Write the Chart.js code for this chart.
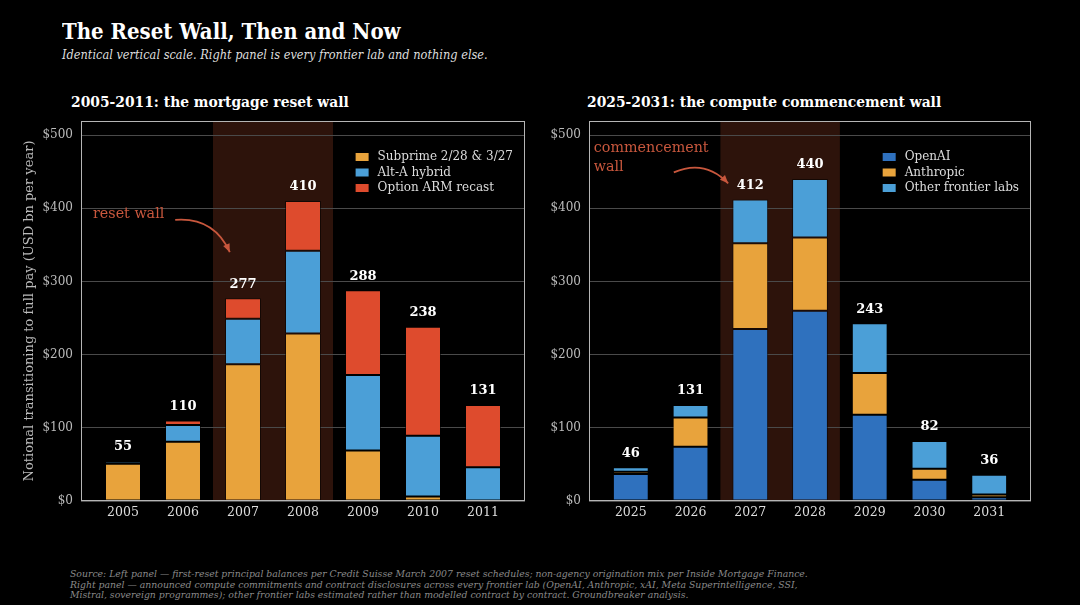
<!DOCTYPE html>
<html>
<head>
<meta charset="utf-8">
<script src="https://cdn.jsdelivr.net/npm/chart.js@4.4.1/dist/chart.umd.min.js"></script>
<style>
  html, body { margin: 0; padding: 0; background: #000; width: 1080px; height: 605px; overflow: hidden; }
  body { position: relative; font-family: "DejaVu Serif", serif; color: #fff; }
  .txt { position: absolute; white-space: nowrap; transform-origin: 0 0; }
  #title { left: 62px; top: 17px; font-size: 23px; font-weight: bold; transform: scaleX(0.86); }
  #subtitle { left: 62px; top: 47px; font-size: 12.5px; font-style: italic; color: #ddd; transform: scaleX(0.91); }
  .panel-title { top: 93px; font-size: 15px; font-weight: bold; transform: scaleX(0.923); }
  #footer { left: 70px; top: 569px; font-size: 9.3px; line-height: 10.5px; font-style: italic; color: #8a8a8a; }
  .box { position: absolute; top: 110px; width: 540px; height: 420px; }
</style>
</head>
<body>
<div id="title" class="txt">The Reset Wall, Then and Now</div>
<div id="subtitle" class="txt">Identical vertical scale. Right panel is every frontier lab and nothing else.</div>
<div class="txt panel-title" style="left:71px">2005-2011: the mortgage reset wall</div>
<div class="txt panel-title" style="left:587px">2025-2031: the compute commencement wall</div>
<div class="box" style="left:0"><canvas id="left" width="540" height="420"></canvas></div>
<div class="box" style="left:540px"><canvas id="right" width="540" height="420"></canvas></div>
<div id="footer" class="txt">Source: Left panel — first-reset principal balances per Credit Suisse March 2007 reset schedules; non-agency origination mix per Inside Mortgage Finance.<br>Right panel — announced compute commitments and contract disclosures across every frontier lab (OpenAI, Anthropic, xAI, Meta Superintelligence, SSI,<br>Mistral, sovereign programmes); other frontier labs estimated rather than modelled contract by contract. Groundbreaker analysis.</div>

<script>
// values, USD bn per year
const leftYears = ["2005", "2006", "2007", "2008", "2009", "2010", "2011"];
const subprime = [51, 81, 187, 229, 69, 6, 0];
const altA = [3, 23, 62, 113, 103, 83, 46];
const optionArm = [1, 6, 28, 68, 116, 149, 85];

const rightYears = ["2025", "2026", "2027", "2028", "2029", "2030", "2031"];
const openAI = [37, 74, 235, 260, 118, 29, 5];
const anthropic = [3, 40, 117, 100, 57, 15, 4];
const otherLabs = [6, 17, 60, 80, 68, 38, 27];

const yTicks = [0, 100, 200, 300, 400, 500];
const yMax = 519.2;
const wallSpan = [1.5, 3.5]; // shaded years, in category units

const orange = "#e8a33c";
const lightBlue = "#4b9fd7";
const red = "#de4b2d";
const darkBlue = "#2f71be";
const accent = "#c8573d";

Chart.defaults.font.family = '"DejaVu Serif", serif';
Chart.defaults.color = "#ddd";

const serie = (label, values, color) => ({
  label,
  data: values.map((v, i) => ({ x: i, y: v })),
  backgroundColor: color,
  borderColor: "rgba(0,0,0,0.55)",
  borderWidth: 1,
  borderSkipped: false,
  barPercentage: 0.6,
  categoryPercentage: 1,
});

const wallDecor = {
  id: "wallDecor",
  beforeDraw(chart, args, opts) {
    const { ctx, chartArea: a, scales: { x } } = chart;
    const x0 = x.getPixelForValue(opts.band[0]);
    const x1 = x.getPixelForValue(opts.band[1]);
    ctx.save();
    ctx.fillStyle = "#2d130b";
    ctx.fillRect(x0, a.top, x1 - x0, a.bottom - a.top);
    ctx.restore();
  },
  afterDatasetsDraw(chart, args, opts) {
    const { ctx, chartArea: a, scales: { x, y } } = chart;
    ctx.save();

    // frame
    ctx.strokeStyle = "#b5b5b5";
    ctx.lineWidth = 1;
    ctx.strokeRect(a.left + 0.5, a.top + 0.5, a.right - a.left - 1, a.bottom - a.top - 1);

    // totals
    const sets = chart.data.datasets;
    ctx.fillStyle = "#fff";
    ctx.font = 'bold 13px "DejaVu Serif", serif';
    ctx.textAlign = "center";
    ctx.textBaseline = "middle";
    sets[0].data.forEach((p, i) => {
      const total = sets.reduce((s, d) => s + d.data[i].y, 0);
      ctx.fillText(String(total), x.getPixelForValue(i), y.getPixelForValue(total) - 14);
    });

    // legend, upper right inside the frame
    ctx.font = '12px "DejaVu Serif", serif';
    ctx.textAlign = "left";
    const widest = Math.max(...sets.map(d => ctx.measureText(d.label).width));
    const lx = a.right - 12 - widest - 22;
    sets.forEach((d, k) => {
      const ly = a.top + 36 + k * 15.5;
      ctx.fillStyle = d.backgroundColor;
      ctx.fillRect(lx, ly - 4, 13, 8);
      ctx.fillStyle = "#ddd";
      ctx.fillText(d.label, lx + 22, ly);
    });

    // annotation with curved arrow
    const n = opts.note;
    ctx.fillStyle = accent;
    ctx.font = '14.3px "DejaVu Serif", serif';
    const tx = x.getPixelForValue(n.x);
    const ty = y.getPixelForValue(n.y);
    n.text.forEach((line, k) => ctx.fillText(line, tx, ty + k * 19));
    const sx = x.getPixelForValue(n.from[0]), sy = y.getPixelForValue(n.from[1]);
    const ex = x.getPixelForValue(n.to[0]), ey = y.getPixelForValue(n.to[1]);
    const dx = ex - sx, dy = ey - sy;
    const cx = (sx + ex) / 2 + 0.35 * dy, cy = (sy + ey) / 2 - 0.35 * dx;
    ctx.strokeStyle = accent;
    ctx.lineWidth = 1.8;
    ctx.beginPath();
    ctx.moveTo(sx, sy);
    ctx.quadraticCurveTo(cx, cy, ex, ey);
    ctx.stroke();
    const ang = Math.atan2(ey - cy, ex - cx);
    ctx.beginPath();
    ctx.moveTo(ex, ey);
    ctx.lineTo(ex - 9 * Math.cos(ang - 0.4), ey - 9 * Math.sin(ang - 0.4));
    ctx.lineTo(ex - 9 * Math.cos(ang + 0.4), ey - 9 * Math.sin(ang + 0.4));
    ctx.closePath();
    ctx.fill();

    ctx.restore();
  },
};

const initWall = (el, years, datasets, note, yWidth, padRight, withTitle) => {
  const config = {
    type: "bar",
    data: { datasets },
    plugins: [wallDecor],
    options: {
      responsive: false,
      animation: false,
      layout: { padding: { left: 0, right: padRight, top: 11, bottom: 0 } },
      plugins: {
        legend: { display: false },
        tooltip: { enabled: false },
        wallDecor: { band: wallSpan, note },
      },
      scales: {
        x: {
          type: "linear",
          offset: false,
          stacked: true,
          min: -0.7,
          max: 6.7,
          grid: { display: false, drawTicks: false },
          border: { display: false },
          afterBuildTicks: s => { s.ticks = years.map((_, i) => ({ value: i })); },
          afterFit: s => { s.height = 29; s.paddingLeft = 0; s.paddingRight = 0; },
          ticks: {
            autoSkip: false,
            maxRotation: 0,
            padding: 4,
            color: "#ddd",
            font: { size: 12.5 },
            callback: v => years[v],
          },
        },
        y: {
          stacked: true,
          min: 0,
          max: yMax,
          grid: { color: "#4a4a4a", lineWidth: 1, drawTicks: false },
          border: { display: false },
          afterBuildTicks: s => { s.ticks = yTicks.map(v => ({ value: v })); },
          afterFit: s => { s.width = yWidth; s.paddingTop = 0; s.paddingBottom = 0; },
          ticks: { padding: 8, color: "#bbb", font: { size: 12 }, callback: v => "$" + v },
          title: {
            display: withTitle,
            text: "Notional transitioning to full pay (USD bn per year)",
            color: "#bbb",
            font: { size: 13 },
            padding: { top: 22, bottom: 0 },
          },
        },
      },
    },
  };
  return new Chart(el, config);
};

initWall(
  document.getElementById("left"),
  leftYears,
  [
    serie("Subprime 2/28 & 3/27", subprime, orange),
    serie("Alt-A hybrid", altA, lightBlue),
    serie("Option ARM recast", optionArm, red),
  ],
  { text: ["reset wall"], x: -0.5, y: 392, from: [0.87, 384], to: [1.78, 340] },
  81, 15, true
);

initWall(
  document.getElementById("right"),
  rightYears,
  [
    serie("OpenAI", openAI, darkBlue),
    serie("Anthropic", anthropic, orange),
    serie("Other frontier labs", otherLabs, lightBlue),
  ],
  { text: ["commencement", "wall"], x: -0.62, y: 482, from: [0.72, 449], to: [1.63, 434] },
  49, 49, false
);
</script>
</body>
</html>
